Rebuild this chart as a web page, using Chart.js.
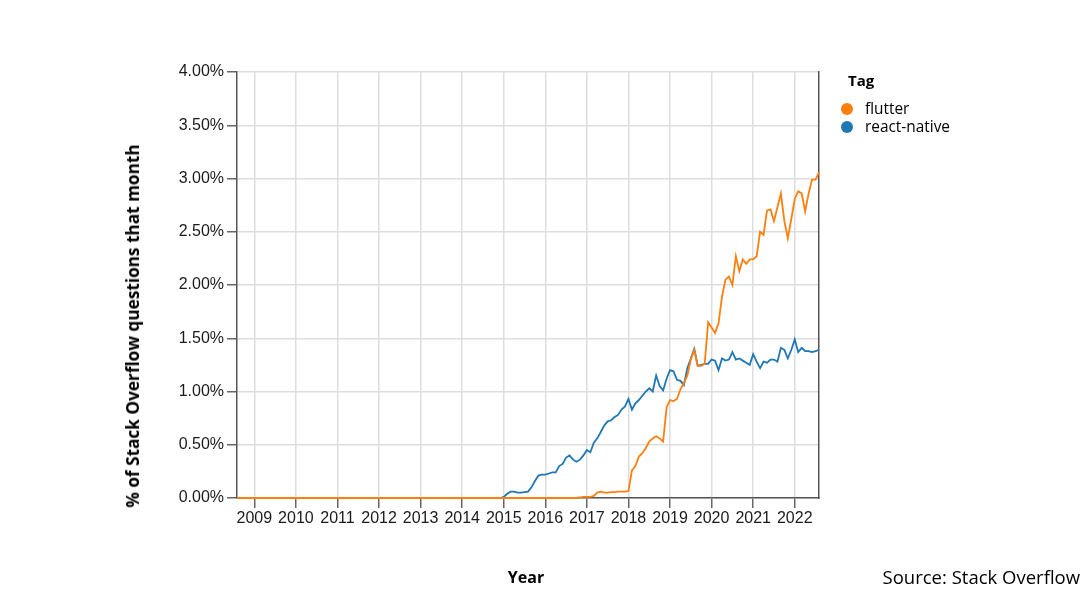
<!DOCTYPE html>
<html><head><meta charset="utf-8">
<script src="https://cdn.jsdelivr.net/npm/chart.js@4.4.1/dist/chart.umd.min.js"></script>
<style>
html,body{margin:0;padding:0;background:#fff;}
#wrap{position:relative;width:1091px;height:592px;overflow:hidden;background:#fff;}
canvas{position:absolute;left:0;top:0;}
.t{position:absolute;white-space:nowrap;color:#000;font-family:"Open Sans",sans-serif;}
.dot{position:absolute;width:12px;height:12px;border-radius:50%;}
</style></head><body>
<div id="wrap">
<canvas id="c" width="1091" height="592"></canvas>
<div class="t" id="ytitle" style="left:133px;top:326px;font-weight:bold;font-size:17.2px;line-height:22px;transform:translate(-50%,-50%) rotate(-90deg);">% of Stack Overflow questions that month</div>
<div class="t" style="left:526px;top:577px;font-weight:bold;font-size:16px;line-height:20px;transform:translate(-50%,-50%);">Year</div>
<div class="t" style="left:848px;top:70px;font-weight:bold;font-size:15px;line-height:20px;">Tag</div>
<div class="dot" style="left:841px;top:103px;background:#ff7f0e;"></div>
<div class="dot" style="left:841px;top:121px;background:#1f77b4;"></div>
<div class="t" id="lg1" style="left:865px;top:99px;font-size:15.4px;line-height:20px;">flutter</div>
<div class="t" id="lg2" style="left:865px;top:117px;font-size:15.4px;line-height:20px;">react-native</div>
<div class="t" style="right:11px;top:565px;font-size:18.5px;line-height:24px;">Source: Stack Overflow</div>
</div>
<script>
// Monthly categories: Aug 2008 .. Aug 2022
const startYear = 2008, startMonth = 8, endYear = 2022, endMonth = 8;
const months = [];
for (let y = startYear, m = startMonth; y < endYear || (y === endYear && m <= endMonth); ) {
  months.push(y + '-' + String(m).padStart(2, '0'));
  m++; if (m > 12) { m = 1; y++; }
}
const yearTicks = [2009,2010,2011,2012,2013,2014,2015,2016,2017,2018,2019,2020,2021,2022];
const yTicks = [0,0.5,1,1.5,2,2.5,3,3.5,4];

// % of Stack Overflow questions per month
const flutter = [
  0,0,0,0,0,0,0,0,0,0,0,0,0,0,0,0,0,0,0,0,
  0,0,0,0,0,0,0,0,0,0,0,0,0,0,0,0,0,0,0,0,
  0,0,0,0,0,0,0,0,0,0,0,0,0,0,0,0,0,0,0,0,
  0,0,0,0,0,0,0,0,0,0,0,0,0,0,0,0,0,0,0,0,
  0,0,0,0,0,0,0,0,0,0,0,0,0,0,0,0,0,0,0,
  0.005,0.01,0.01,0.01,0.02,0.05,0.06,0.05,0.05,0.055,
  0.055,0.06,0.06,0.06,0.065,0.26,0.30,0.39,0.42,0.47,
  0.53,0.56,0.58,0.56,0.53,0.85,0.92,0.91,0.93,1.02,
  1.08,1.15,1.30,1.39,1.24,1.24,1.26,1.65,1.60,1.55,
  1.64,1.89,2.05,2.08,2.00,2.27,2.13,2.24,2.20,2.24,
  2.24,2.27,2.50,2.47,2.70,2.71,2.60,2.73,2.86,2.60,
  2.44,2.62,2.81,2.88,2.86,2.69,2.86,2.99,2.99,3.06
];
const reactNative = [
  0,0,0,0,0,0,0,0,0,0,0,0,0,0,0,0,0,0,0,0,
  0,0,0,0,0,0,0,0,0,0,0,0,0,0,0,0,0,0,0,0,
  0,0,0,0,0,0,0,0,0,0,0,0,0,0,0,0,0,0,0,0,
  0,0,0,0,0,0,0,0,0,0,0,0,0,0,0,0,0,
  0.01,0.04,0.06,0.06,0.05,0.05,0.055,0.06,0.10,0.16,
  0.21,0.22,0.22,0.23,0.24,0.24,0.30,0.32,0.38,0.40,
  0.36,0.34,0.36,0.40,0.45,0.43,0.52,0.56,0.62,0.68,
  0.72,0.73,0.76,0.78,0.83,0.86,0.93,0.83,0.89,0.92,
  0.96,1.00,1.03,1.00,1.15,1.05,1.01,1.12,1.20,1.19,
  1.11,1.10,1.06,1.22,1.31,1.40,1.24,1.25,1.26,1.26,
  1.30,1.29,1.20,1.31,1.29,1.30,1.37,1.30,1.31,1.29,
  1.27,1.25,1.35,1.28,1.22,1.28,1.27,1.30,1.30,1.28,
  1.41,1.39,1.31,1.39,1.49,1.37,1.41,1.38,1.38,1.37,
  1.38,1.39
];

function monthToX(s) {
  const [y, m] = s.split('-').map(Number);
  return y + (m - 1) / 12;
}
function toPoints(vals) {
  return months.map((mo, i) => ({ x: monthToX(mo), y: vals[i] }));
}

const tickFont = { family: '"Liberation Sans", Arial, sans-serif', size: 16 };
new Chart(document.getElementById('c'), {
  type: 'line',
  data: {
    datasets: [
      { label: 'flutter', data: toPoints(flutter), borderColor: '#ff7f0e', borderWidth: 1.8, pointRadius: 0, tension: 0, fill: false, clip: 3 },
      { label: 'react-native', data: toPoints(reactNative), borderColor: '#1f77b4', borderWidth: 1.8, pointRadius: 0, tension: 0, fill: false, clip: 3 }
    ]
  },
  options: {
    responsive: false,
    animation: false,
    devicePixelRatio: 1,
    layout: { padding: { left: 0, top: 72, right: 272, bottom: 0 } },
    plugins: { legend: { display: false }, tooltip: { enabled: false } },
    scales: {
      x: {
        type: 'linear',
        min: monthToX(months[0]),
        max: monthToX(months[months.length - 1]),
        afterBuildTicks: s => { s.ticks = yearTicks.map(v => ({ value: v })); },
        afterFit: s => { s.height = 94; },
        ticks: { callback: v => String(v), font: tickFont, color: '#1a1a1a', padding: 1, maxRotation: 0, autoSkip: false },
        grid: { color: '#dddddd', lineWidth: 1.5, tickColor: '#666', tickLength: 10, tickWidth: 1.5 },
        border: { display: true, color: '#555', width: 1.5 }
      },
      y: {
        type: 'linear',
        position: 'left',
        min: 0, max: 4,
        afterBuildTicks: s => { s.ticks = yTicks.map(v => ({ value: v })); },
        afterFit: s => { s.width = 237; },
        ticks: { callback: v => v.toFixed(2) + '%', font: tickFont, color: '#1a1a1a', padding: 3 },
        grid: { color: '#dddddd', lineWidth: 1.5, tickColor: '#666', tickLength: 10, tickWidth: 1.5 },
        border: { display: true, color: '#555', width: 1.5 }
      },
      y2: {
        type: 'linear',
        position: 'right',
        min: 0, max: 4,
        afterFit: s => { s.width = 0; },
        ticks: { display: false },
        grid: { display: false, drawTicks: false },
        border: { display: true, color: '#555', width: 1.5 }
      }
    }
  }
});
</script>
</body></html>
